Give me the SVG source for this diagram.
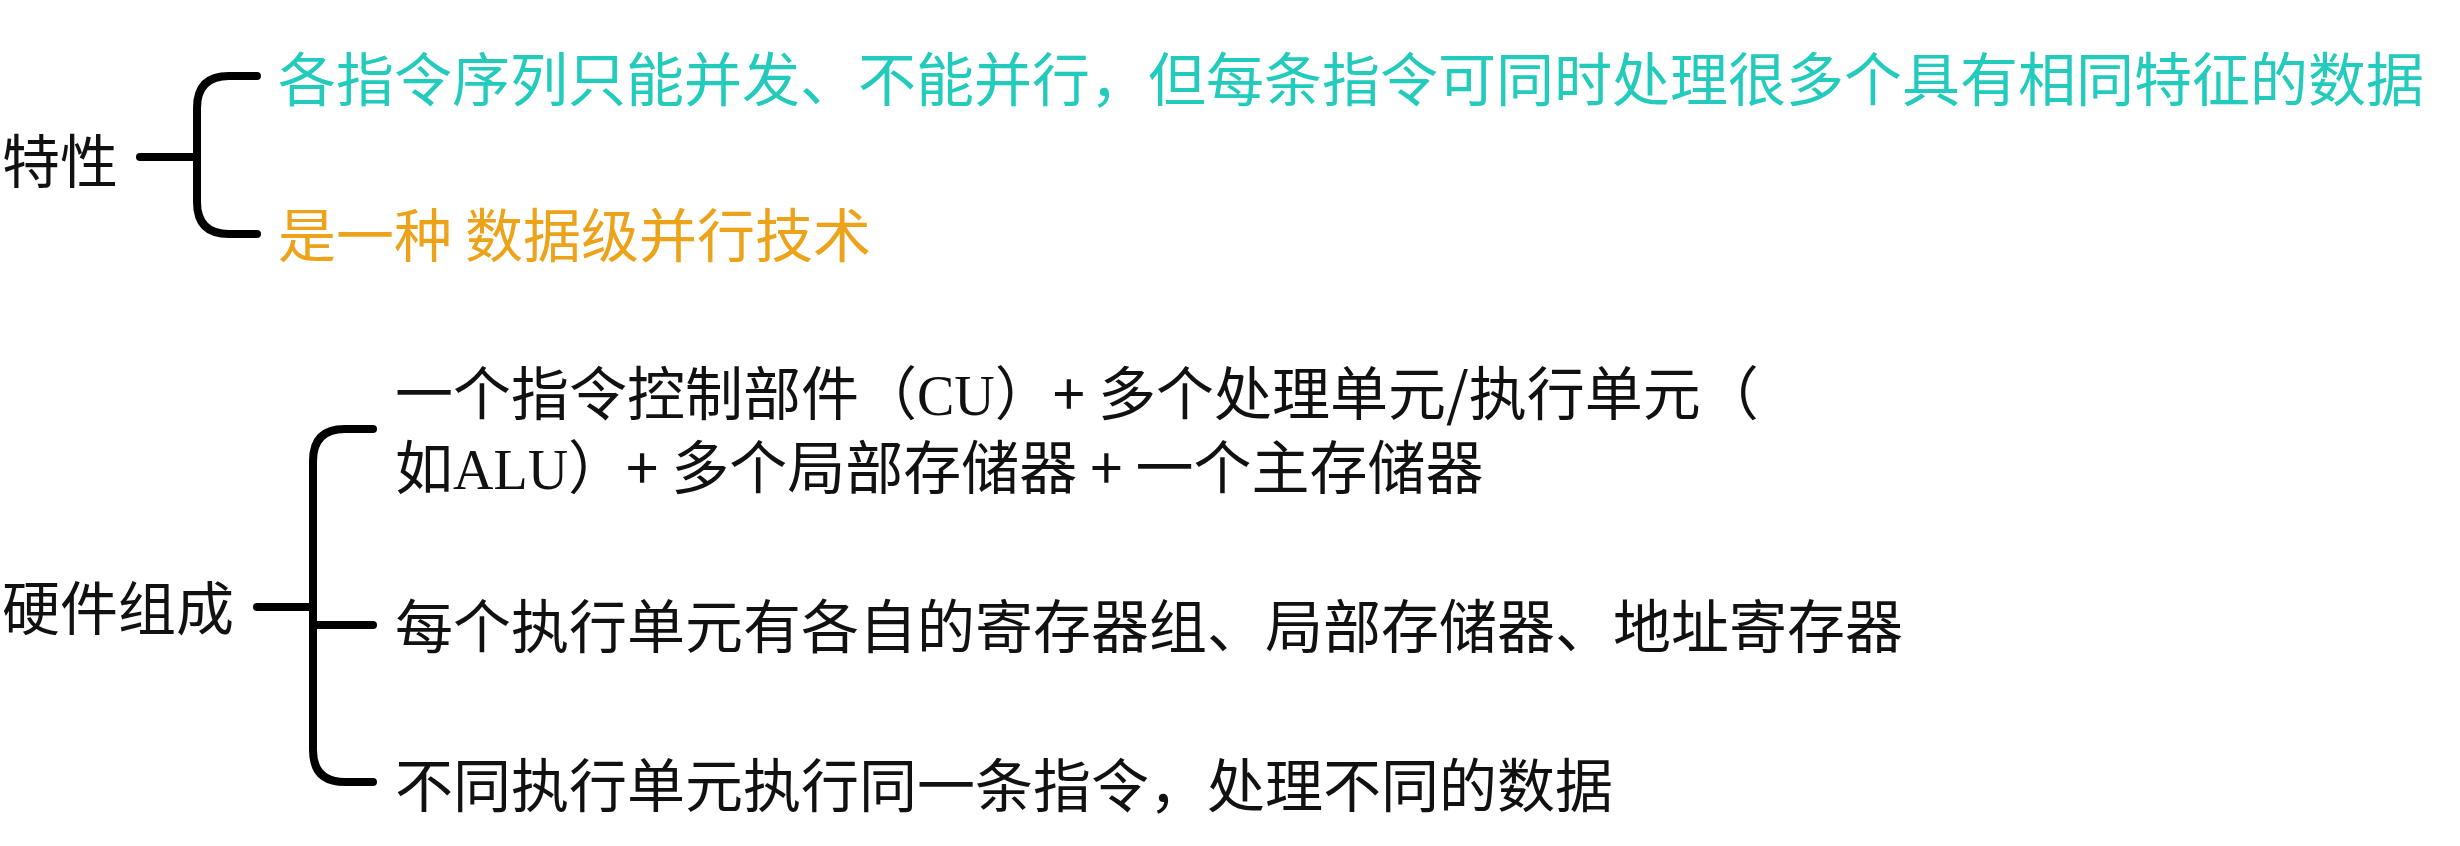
<svg xmlns="http://www.w3.org/2000/svg" width="2460" height="846" viewBox="0 0 2460 846">
<style>
text{font-family:"Noto Sans CJK SC","Noto Sans",sans-serif;font-size:58px;fill:#111}
.cyan{fill:#22cbbb}
.orange{fill:#eca31a}
.lat{font-family:"Liberation Serif",serif;font-size:56px}
.br{fill:none;stroke:#000;stroke-width:8;stroke-linecap:round;stroke-linejoin:round}
</style>
<rect width="2460" height="846" fill="#fff"/>
<g id="connectors">
<path class="br" d="M140 157 H197"/>
<path class="br" d="M257 76 H229 Q197 76 197 108 V202 Q197 234 229 234 H257"/>
<path class="br" d="M257 607 H313"/>
<path class="br" d="M373 429 H345 Q313 429 313 461 V750 Q313 782 345 782 H373"/>
<path class="br" d="M313 625 H373"/>
</g>
<g id="node-texing"><text x="2" y="183">特性</text></g>
<g id="node-texing-1"><text class="cyan" x="278" y="101">各指令序列只能并发、不能并行，但每条指令可同时处理很多个具有相同特征的数据</text></g>
<g id="node-texing-2"><text class="orange" x="278" y="257">是一种 数据级并行技术</text></g>
<g id="node-yingjian"><text x="2" y="630">硬件组成</text></g>
<g id="node-yingjian-1">
<text x="395" y="415">一个指令控制部件（<tspan class="lat">CU</tspan>）+ 多个处理单元/执行单元（<tspan x="395" dy="74">如</tspan><tspan class="lat">ALU</tspan>）+ 多个局部存储器 + 一个主存储器</text>
</g>
<g id="node-yingjian-2"><text x="395" y="648">每个执行单元有各自的寄存器组、局部存储器、地址寄存器</text></g>
<g id="node-yingjian-3"><text x="395" y="807">不同执行单元执行同一条指令，处理不同的数据</text></g>
</svg>
